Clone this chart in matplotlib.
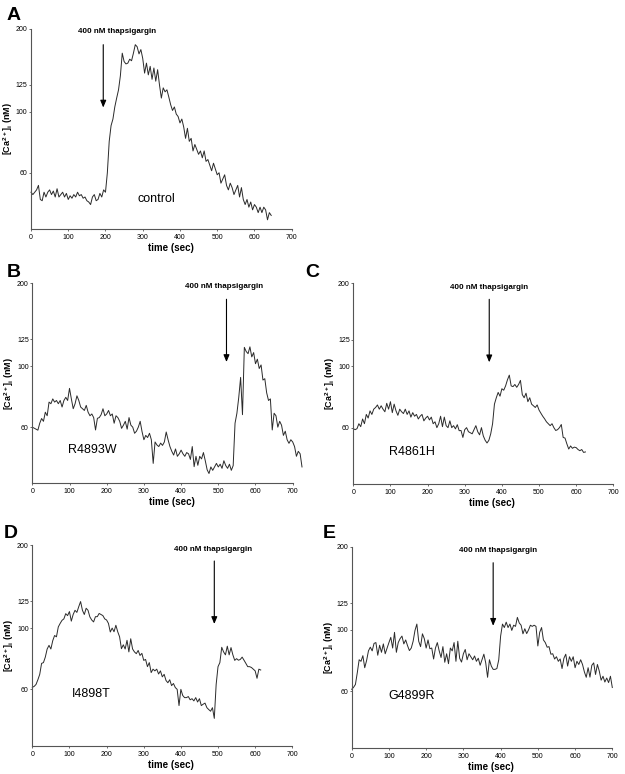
import numpy as np
import matplotlib.pyplot as plt
from matplotlib.ticker import NullLocator

plt.rcParams['font.family'] = ['Liberation Sans', 'DejaVu Sans']
plt.rcParams['mathtext.default'] = 'regular'

# fura-2 traces, [Ca2+]i in nM, one sample every DT seconds
DT = 5

control = [51, 50, 51, 52, 54, 48, 47.5, 51, 49, 51, 52, 50, 51.5, 49, 52.5, 49, 50, 51, 49, 50.5,
           48, 49.5, 48.5, 50, 49, 51, 49.5, 50, 48.5, 49, 47.5, 47, 46, 49, 50, 47.5, 48, 50.5, 49, 52,
           51, 60, 78, 89, 94, 104, 112, 120, 135, 163, 152, 149, 150, 155, 153, 163, 175, 172, 162, 168,
           156, 138, 150, 136, 146, 131, 144, 129, 142, 125, 112, 122, 118, 120, 113, 106, 101, 104, 98, 96,
           91, 94, 88, 80, 87, 78, 80, 72, 76, 73, 70, 72, 68, 72, 66, 67, 64, 61, 65, 62,
           59, 60, 55, 57, 59, 54, 52, 55, 53, 50, 52, 54, 49, 53, 48, 46, 48, 45, 47, 44,
           46, 45, 43, 45, 43, 45, 44, 40.5, 43, 42]

r4893w = [60, 59.5, 59, 58.5, 62, 64.5, 63, 68, 66, 74, 73, 76, 74, 75, 73, 75, 71, 75, 77, 75,
          83, 76, 70, 73, 78, 75, 71, 70, 69, 72, 68, 66, 67, 65, 58.6, 64.6, 65, 66.6, 70, 66,
          67, 69, 66, 67, 62, 66, 65, 63, 59.4, 61, 63, 59, 65, 61, 60, 57, 58, 60, 63, 57.8,
          54, 56, 55, 57, 54, 44.3, 53, 51.7, 51, 52.5, 51.5, 53, 57.6, 54, 51, 49, 47.5, 50, 47, 48,
          49.5, 48, 47, 48.5, 48, 45.8, 51, 43.1, 47, 43.6, 47, 46, 48.5, 45.3, 42, 40.7, 43, 41.8, 43, 44.3,
          43, 44, 42.5, 45.3, 43.5, 42.5, 44, 41.8, 43.5, 62, 67.4, 77, 91, 66.6, 117, 113, 111, 117.5, 108, 112,
          102, 106, 98, 101, 89, 90, 80, 75, 76, 58.6, 67.4, 66, 60, 63, 61, 56, 58, 54, 52.4, 54,
          53, 51, 47, 49, 48, 43]

r4861h = [59.5, 59, 59.5, 62, 60.5, 64.5, 62, 67, 65, 69, 67, 70, 71, 72.5, 70, 72, 70, 68.5, 73.5, 70,
          74.5, 68, 73, 69, 66.5, 70, 68.5, 67.5, 70, 67, 69, 65.5, 68, 66, 67, 64.5, 66, 67, 63.5, 65,
          66, 64, 65.5, 62, 63, 60, 62, 66, 60.5, 65.5, 61, 60, 63.5, 60, 61, 59.4, 61.5, 58.5, 58.6, 55.3,
          59, 60, 58, 57.5, 57, 59, 61, 58, 56.5, 60, 56, 54, 52.8, 54, 57, 62, 73, 77, 80.5, 78,
          83, 82, 85, 89.4, 93, 85, 84.5, 86, 84, 86, 89, 79, 77, 80, 74.5, 77, 73, 72, 71, 72.5,
          69.5, 67.7, 66, 64.6, 63, 62, 61, 62, 60, 58.6, 59, 60, 61.6, 55.3, 55, 52.4, 50.2, 51.5, 50.5, 51,
          50.8, 50, 49.5, 50, 48.8, 49]

i4898t = [61, 61.5, 62.5, 65, 68, 74.5, 75, 78.5, 84, 86.6, 84, 90, 94, 93, 101, 104, 106.7, 108, 112.8, 111,
          114.8, 106, 112, 116, 114, 119.5, 124.8, 116, 112, 118, 116, 109.8, 107, 105.3, 110, 110, 113, 112, 111, 108,
          107, 104, 96.8, 100, 97, 102.4, 97, 93, 84.2, 87, 84, 90.3, 82, 91.5, 84, 82, 80.8, 83, 79.6, 81,
          76.4, 77, 72.5, 75, 69, 71, 70, 71, 68.2, 70, 66.6, 68, 64.6, 63.4, 65, 61.9, 63, 60.9, 60, 52.4,
          60, 57, 56, 56, 56.5, 55, 55.5, 54.5, 56, 54, 55.5, 52.4, 53, 53.5, 51.5, 50.7, 50, 51.5, 47.1, 62.5,
          72.5, 75, 85.2, 82, 80, 86, 80, 85, 80, 76.4, 77.5, 76.5, 77, 78.5, 76.5, 74.5, 72.5, 72.5, 72, 71,
          70, 65.8, 71, 70.5]

g4899r = [61, 62, 63.5, 70, 78, 77, 80.7, 73, 77.5, 84, 86.6, 84, 89.4, 90, 81, 88, 83, 89, 82, 86,
          90, 94, 86, 98, 83, 90, 93, 95, 89, 92, 87.7, 84.2, 86, 91, 99.6, 105, 91, 87, 96.8, 93,
          86, 92, 85.5, 86, 78.5, 86, 90, 84, 79.5, 87, 76.4, 82, 75.5, 86, 84, 90, 77, 91, 79, 76.5,
          82, 85, 78, 82, 80, 78, 80.5, 77, 79, 74.5, 78, 81.7, 76, 67.4, 78, 74, 72, 72, 72.5, 78,
          95, 105, 102, 106.7, 102, 105, 99.6, 104, 103, 111, 106, 104, 96.8, 101, 97, 100, 104, 103, 104, 103,
          87.5, 98, 102, 92, 90, 86.6, 87, 81.7, 82, 78.5, 80, 77, 78.5, 72.5, 79, 81.7, 74, 80, 77, 80,
          73, 77, 75, 78, 75, 70.5, 67.4, 73, 67.5, 74.5, 76, 69, 75, 71, 65.8, 68, 64.8, 67, 64.5, 68,
          61.9]

y_ticks = [60, 100, 125, 200]
x_ticks = [0, 100, 200, 300, 400, 500, 600, 700]

W, H = 625, 774
fig = plt.figure(figsize=(W / 100, H / 100), dpi=100)

# letter, trace, name, name position, arrow time, label position, axes box (px: left, top, right, bottom)
panels = [
    ('A', control, 'control', (336, 48.3), 194, (230, 195), (31, 28.7, 291.7, 229)),
    ('B', r4893w, 'R4893W', (160, 49.6), 522, (515, 195), (32.3, 283.3, 292.7, 483.3)),
    ('C', r4861h, 'R4861H', (157, 48.8), 366, (366, 193), (353.3, 283.3, 613.3, 484)),
    ('D', i4898t, 'I4898T', (160, 57.7), 490, (488, 193), (32.3, 545, 292.3, 745.7)),
    ('E', g4899r, 'G4899R', (161, 57.8), 380, (394, 194), (351.7, 546.7, 612.3, 747.7)),
]
letter_pos = {'A': (7, 20), 'B': (7, 277), 'C': (305, 277), 'D': (4, 538), 'E': (323, 538)}

for letter, trace, name, name_xy, arrow_t, lab_xy, (l, t, r, b) in panels:
    ax = fig.add_axes([l / W, 1 - b / H, (r - l) / W, (b - t) / H])
    vals = np.array(trace, dtype=float)
    times = np.arange(len(vals)) * DT
    ax.plot(times, vals, color='#2a2a2a', lw=0.7, clip_on=False)

    ax.set_yscale('log')
    ax.set_ylim(37.5, 200)
    ax.set_xlim(0, 700)
    ax.set_yticks(y_ticks)
    ax.set_yticklabels([str(v) for v in y_ticks])
    ax.yaxis.set_minor_locator(NullLocator())
    ax.set_xticks(x_ticks)
    ax.tick_params(length=1.5, width=0.6, labelsize=5, pad=2, color='#555555')
    ax.tick_params(axis='y', pad=1)

    for s in ['top', 'right']:
        ax.spines[s].set_visible(False)
    for s in ['left', 'bottom']:
        ax.spines[s].set_color('#555555')
        ax.spines[s].set_linewidth(0.8)

    ax.set_xlabel('time (sec)', fontsize=7, fontweight='bold')
    ax.xaxis.set_label_coords(0.535, -0.07)
    ax.set_ylabel(r'[Ca$^{2+}$]$_i$ (nM)', fontsize=6.5, fontweight='bold')
    ax.yaxis.set_label_coords(-16.0 / (r - l), 0.5)

    ax.annotate('', xy=(arrow_t, 103.5), xytext=(arrow_t, 175),
                arrowprops=dict(arrowstyle='-|>,head_length=0.6,head_width=0.25',
                                color='black', lw=0.8, mutation_scale=7, shrinkA=0, shrinkB=0))
    ax.text(lab_xy[0], lab_xy[1], '400 nM thapsigargin', fontsize=5.8, fontweight='bold',
            ha='center', va='center')
    ax.text(name_xy[0], name_xy[1], name, fontsize=9, ha='center', va='center')

    lx, ly = letter_pos[letter]
    fig.text(lx / W, 1 - ly / H, letter, fontsize=14, fontweight='bold', ha='left', va='baseline')

fig.savefig('out.png', dpi=100)
